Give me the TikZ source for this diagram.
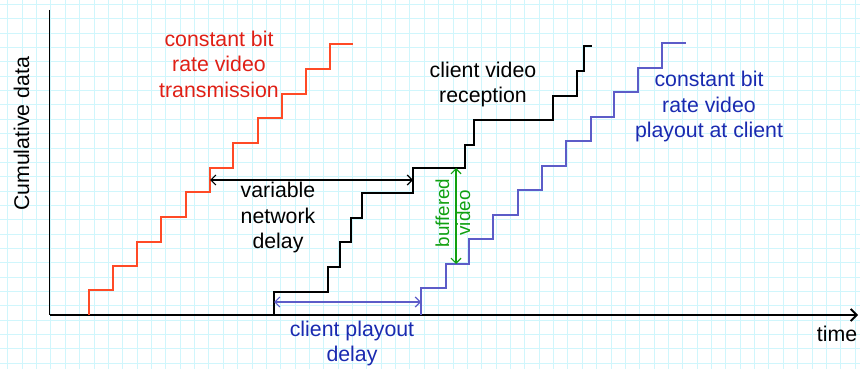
\documentclass[tikz,border=0pt]{standalone}
\usepackage{fontspec}
\setmainfont{Liberation Sans}
\usetikzlibrary{arrows.meta}
\definecolor{gridc}{RGB}{208,246,252}
\definecolor{redline}{RGB}{255,74,38}
\definecolor{redtext}{RGB}{224,32,22}
\definecolor{blueline}{RGB}{92,92,200}
\definecolor{bluetext}{RGB}{26,42,176}
\definecolor{greenc}{RGB}{16,160,16}
\tikzset{
  gridline/.style={gridc, line width=1pt},
  axis/.style={black, line width=1.8pt},
  stair/.style={line width=1.5pt},
  dimarrow/.style={line width=1.2pt, {Straight Barb[length=5pt,width=10pt]}-{Straight Barb[length=5pt,width=10pt]}},
  lbl/.style={inner sep=0pt, align=center, font=\fontsize{21.3}{25.5}\selectfont},
  smalllbl/.style={inner sep=0pt, align=center, font=\fontsize{18.8}{21}\selectfont},
}
\begin{document}
\begin{tikzpicture}[x=1pt,y=-1pt]
\useasboundingbox[fill=white] (0,0) rectangle (860,369);
% grid
\foreach \k in {0,...,59} \draw[gridline] ({7.9+14.36*\k},0) -- ({7.9+14.36*\k},369);
\foreach \k in {0,...,25} \draw[gridline] (0,{4.6+14.34*\k}) -- (860,{4.6+14.34*\k});
% axes
\coordinate (origin) at (49.5,315);
\coordinate (ytop) at (49.5,10);
\coordinate (xend) at (858,315);
\draw[axis] (ytop) -- (origin);
\draw[axis, -{Straight Barb[length=6pt,width=12pt]}] (origin) -- (xend);
% red transmission staircase
\draw[stair, redline] (89,315) -- (89,290) -- (113,290) -- (113,266) -- (137,266) -- (137,242) -- (161,242) -- (161,217) -- (186,217) -- (186,192) -- (210,192) -- (210,168) -- (233,168) -- (233,143) -- (258,143) -- (258,118) -- (282,118) -- (282,94) -- (306,94) -- (306,69) -- (330,69) -- (330,44) -- (353,44);
% blue playout staircase
\draw[stair, blueline] (421,315) -- (421,288) -- (446,288) -- (446,264) -- (469,264) -- (469,239) -- (493,239) -- (493,215) -- (518,215) -- (518,190) -- (542,190) -- (542,166) -- (566,166) -- (566,141) -- (591,141) -- (591,117) -- (614,117) -- (614,92) -- (638,92) -- (638,68) -- (662,68) -- (662,43) -- (686,43);
% black reception staircase
\draw[stair, black] (274,315) -- (274,292) -- (328,292) -- (328,267) -- (340,267) -- (340,242) -- (351,242) -- (351,218) -- (362,218) -- (362,193) -- (413,193) -- (413,168) -- (465,168) -- (465,145) -- (474,145) -- (474,120) -- (553,120) -- (553,96) -- (577,96) -- (577,71) -- (584,71) -- (584,46) -- (592,46);
% dimension arrows
\coordinate (nd1) at (210,180);
\coordinate (nd2) at (413,180);
\draw[dimarrow, black] (nd1) -- (nd2);
\coordinate (pd1) at (274,302);
\coordinate (pd2) at (421,302);
\draw[dimarrow, blueline] (pd1) -- (pd2);
\coordinate (bv1) at (456,168);
\coordinate (bv2) at (456,264);
\draw[dimarrow, greenc] (bv1) -- (bv2);
% labels
\node[lbl, text=redtext] (tx) at (219,66.5) {\strut constant bit\\\strut rate video\\\strut transmission};
\node[lbl, text=black] (nd) at (278,218) {\strut variable\\\strut network\\\strut delay};
\node[lbl, text=black] (rx) at (483,85) {\strut client video\\\strut reception};
\node[lbl, text=bluetext] (po) at (709,107.3) {\strut constant bit\\\strut rate video\\\strut playout at client};
\node[lbl, text=bluetext] (pd) at (352,344) {\strut client playout\\\strut delay};
\node[lbl, text=black] (tm) at (837,336) {\strut time};
\node[lbl, text=black, rotate=90] (cd) at (24,134) {\strut Cumulative data};
\node[smalllbl, text=greenc, rotate=90] (bv) at (455.5,213) {\strut buffered\\\strut video};
\end{tikzpicture}
\end{document}
